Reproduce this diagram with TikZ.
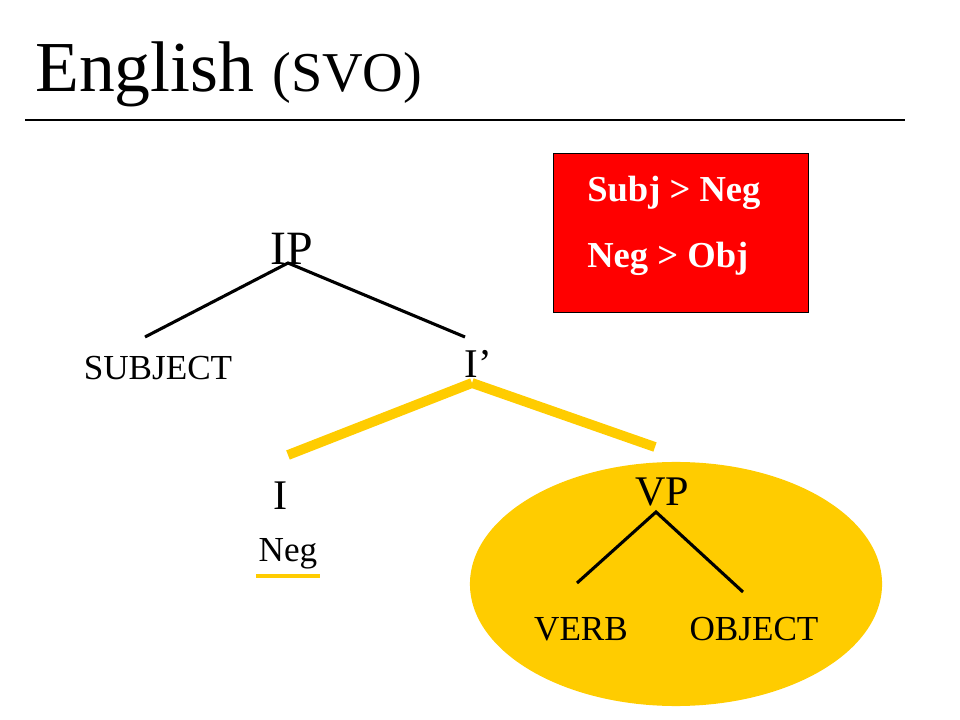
\documentclass[tikz,border=0pt]{standalone}
\usepackage{fontspec}
\setmainfont{Liberation Serif}
\usepackage{tikz}
\usetikzlibrary{positioning,calc}
\definecolor{gold}{RGB}{255,204,0}
\definecolor{boxred}{RGB}{255,0,0}

\begin{document}
\begin{tikzpicture}[x=0.025cm,y=-0.025cm,
	word/.style={anchor=base,inner sep=0pt,font=\fontsize{25}{30}\selectfont},
	cat/.style={anchor=base,inner sep=0pt,font=\fontsize{#1}{36}\selectfont},
	branch/.style={line width=2.2pt},
	hilite/.style={gold,line width=7pt}]
	\useasboundingbox (0,0) rectangle (960,720);
	\node[anchor=base west,inner sep=0pt] (title) at (35,92) {\fontsize{51}{60}\selectfont English \fontsize{40}{44}\selectfont(SVO)};
	\draw[line width=1.4pt] (25,120) -- (905,120);
	% the order box
	\draw[fill=boxred,line width=0.7pt] (553,153) rectangle (808,312);
	\node[anchor=base west,inner sep=0pt,white,font=\bfseries\fontsize{26}{30}\selectfont] (subjneg) at (587,202) {Subj > Neg};
	\node[anchor=base west,inner sep=0pt,white,font=\bfseries\fontsize{26}{30}\selectfont] (negobj) at (587,268) {Neg > Obj};
	\fill[gold] (676,584) ellipse (5.15cm and 3.05cm);
	% the tree
	\node[cat=34] (ip) at (292,265) {IP};
	\node[word] (subj) at (158,380) {SUBJECT};
	\node[cat=29] (ibar) at (478,378) {I’};
	\node[cat=30] (i) at (281,510) {I};
	\node[word] (neg) at (288,562) {Neg};
	\node[cat=30] (vp) at (662,505) {VP};
	\node[word] (verb) at (581,640) {VERB};
	\node[word] (obj) at (754,640) {OBJECT};
	\coordinate (ip-root) at (288,263);
	\coordinate (subj-top) at (145,337);
	\coordinate (ibar-top) at (465,337);
	\coordinate (ibar-root) at (472,383);
	\coordinate (i-top) at (288,455);
	\coordinate (vp-top) at (655,447);
	\coordinate (vp-root) at (656,512);
	\coordinate (verb-top) at (577,583);
	\coordinate (obj-top) at (743,592);
	\draw[branch] (subj-top) -- (ip-root) -- (ibar-top);
	\draw[hilite] (ibar-root) -- (i-top);
	\draw[hilite] (ibar-root) -- (vp-top);
	\draw[branch] (verb-top) -- (vp-root) -- (obj-top);
	\draw[gold,line width=3pt] (256,576) -- (320,576);
\end{tikzpicture}
\end{document}
